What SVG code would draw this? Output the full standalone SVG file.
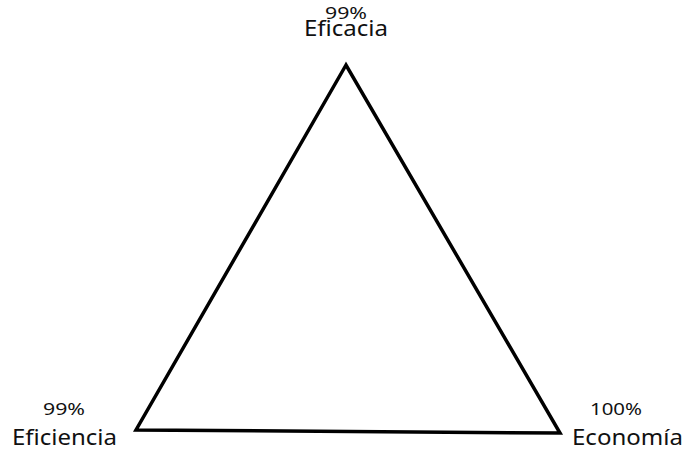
<svg xmlns="http://www.w3.org/2000/svg" width="686" height="452" viewBox="0 0 686 452">
<style>
.lbl{font-family:"Noto Sans","Open Sans",sans-serif;font-size:22px;fill:#111}
.pct{font-family:"Noto Sans","Open Sans",sans-serif;font-size:17px;fill:#111}
.tri{fill:none;stroke:#000;stroke-width:3.5;stroke-linejoin:miter}
</style>
<rect width="686" height="452" fill="#fff"/>
<g id="connectors">
<path class="tri" d="M346,65 L136,430 L560,433 Z"/>
</g>
<g id="eficacia">
<text class="pct" x="325" y="19" textLength="42" lengthAdjust="spacingAndGlyphs">99%</text>
<text class="lbl" x="304" y="36" textLength="84" lengthAdjust="spacingAndGlyphs">Eficacia</text>
</g>
<g id="eficiencia">
<text class="pct" x="43" y="415" textLength="42" lengthAdjust="spacingAndGlyphs">99%</text>
<text class="lbl" x="12" y="445" textLength="105" lengthAdjust="spacingAndGlyphs">Eficiencia</text>
</g>
<g id="economia">
<text class="pct" x="590" y="415" textLength="52" lengthAdjust="spacingAndGlyphs">100%</text>
<text class="lbl" x="572" y="445" textLength="111" lengthAdjust="spacingAndGlyphs">Economía</text>
</g>
</svg>
